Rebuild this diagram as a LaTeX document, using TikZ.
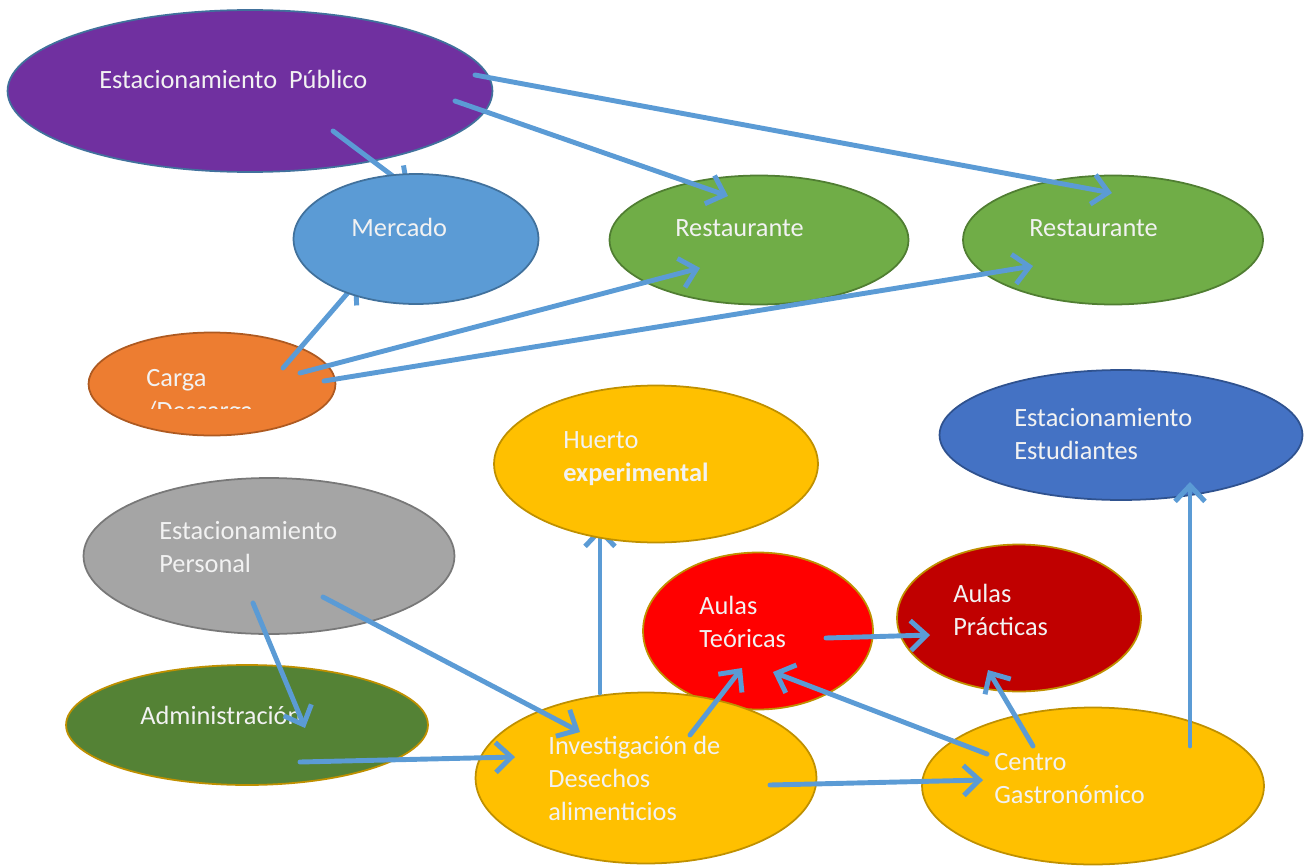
\documentclass[tikz,border=0pt]{standalone}
\usepackage{fontspec}
\setmainfont{Carlito}
\usetikzlibrary{shapes.geometric,arrows.meta}
\definecolor{linkblue}{HTML}{5B9BD5}
\definecolor{gold}{HTML}{BF9000}
\pgfdeclarelayer{back}
\pgfdeclarelayer{under}
\pgfsetlayers{back,under,main}
\tikzset{
  blob/.style={ellipse,draw,line width=1pt,inner sep=0pt},
  lbl/.style={text=white!95!black,align=left,anchor=base west,inner sep=0pt,
    font=\fontsize{15}{18.7}\selectfont},
  link/.style={->,line width=2.8pt,draw=linkblue,line cap=round,line join=round}
}
\begin{document}
\begin{tikzpicture}[x=0.02cm,y=-0.02cm,>={Straight Barb[length=9pt,width=17pt]}]
  \useasboundingbox (0,0) rectangle (1311,865);
  % ovals
  \begin{pgfonlayer}{back}
  \node[blob,fill={rgb,255:red,112;green,48;blue,160},draw={rgb,255:red,65;green,113;blue,156},minimum width=9.7cm,minimum height=3.24cm](pub)at(250,91){};
  \node[blob,fill={rgb,255:red,112;green,173;blue,71},draw={rgb,255:red,80;green,126;blue,50},minimum width=5.98cm,minimum height=2.58cm](rest1)at(759,240){};
  \node[blob,fill={rgb,255:red,112;green,173;blue,71},draw={rgb,255:red,80;green,126;blue,50},minimum width=6cm,minimum height=2.58cm](rest2)at(1113,240){};
  \node[blob,fill={rgb,255:red,237;green,125;blue,49},draw={rgb,255:red,174;green,90;blue,33},minimum width=4.94cm,minimum height=2.06cm](carga)at(212,384){};
  \node[blob,fill={rgb,255:red,68;green,114;blue,196},draw={rgb,255:red,47;green,82;blue,143},minimum width=7.26cm,minimum height=2.6cm](estud)at(1121,435){};
  \node[blob,fill={rgb,255:red,165;green,165;blue,165},draw={rgb,255:red,120;green,120;blue,120},minimum width=7.42cm,minimum height=3.12cm](pers)at(269,556){};
  \node[blob,fill=red,draw=gold,minimum width=4.6cm,minimum height=3.14cm](teor)at(758,631){};
  \node[blob,fill={rgb,255:red,192;green,0;blue,0},draw=gold,minimum width=4.88cm,minimum height=2.94cm](prac)at(1019,618){};
  \node[blob,fill={rgb,255:red,84;green,130;blue,53},draw=gold,minimum width=7.24cm,minimum height=2.4cm](admin)at(247,725){};
  \node[blob,fill={rgb,255:red,255;green,192;blue,0},draw=gold,minimum width=6.82cm,minimum height=3.42cm](inv)at(646,778){};
  \node[blob,fill={rgb,255:red,255;green,192;blue,0},draw=gold,minimum width=6.84cm,minimum height=3.14cm](cent)at(1093,786){};
  \end{pgfonlayer}
  \node[blob,fill=linkblue,draw={rgb,255:red,65;green,113;blue,156},minimum width=4.9cm,minimum height=2.6cm](merc)at(416,239){};
  \node[blob,fill={rgb,255:red,255;green,192;blue,0},draw=gold,minimum width=6.48cm,minimum height=3.14cm](huerto)at(656,464){};
  % links that run under an oval
  \begin{pgfonlayer}{under}
  \draw[link]([shift={(83,40)}]pub.center)--([shift={(-6,-50)}]merc.center);
  \draw[link]([shift={(71,-16)}]carga.center)--([shift={(-58,42)}]merc.center);
  \draw[link]([shift={(-46,-85)}]inv.center)--([shift={(-56,63)}]huerto.center);
  \end{pgfonlayer}
  % labels (base = last line)
  \node[lbl](pubtxt)at(99,89){Estacionamiento\ \ Público};
  \node[lbl](merctxt)at(351,236){Mercado};
  \node[lbl](rest1txt)at(675,236){Restaurante};
  \node[lbl](rest2txt)at(1029,236){Restaurante};
  \begin{scope}
    \clip(140,350)rectangle(300,408);
    \node[lbl](cargatxt)at(146,419){Carga\\/Descarga};
  \end{scope}
  \node[lbl](huertotxt)at(563,481){Huerto\\\textbf{experimental}};
  \node[lbl](estudtxt)at(1014,459){Estacionamiento\\Estudiantes};
  \node[lbl](perstxt)at(159,572){Estacionamiento\\Personal};
  \node[lbl](teortxt)at(699,647){Aulas\\Teóricas};
  \node[lbl](practxt)at(953,635){Aulas\\Prácticas};
  \node[lbl](admintxt)at(140,724){Administración};
  \node[lbl](invtxt)at(548,820){Investigación de\\Desechos\\alimenticios};
  \node[lbl](centtxt)at(994,803){Centro\\Gastronómico};
  % links
  \draw[link]([shift={(205,10)}]pub.center)--([shift={(-31,-44)}]rest1.center);
  \draw[link]([shift={(225,-16)}]pub.center)--([shift={(-1,-47)}]rest2.center);
  \draw[link]([shift={(88,-11)}]carga.center)--([shift={(-59,28)}]rest1.center);
  \draw[link]([shift={(112,-3)}]carga.center)--([shift={(-80,26)}]rest2.center);
  \draw[link]([shift={(-16,47)}]pers.center)--([shift={(58,3)}]admin.center);
  \draw[link]([shift={(54,41)}]pers.center)--([shift={(-66,-46)}]inv.center);
  \draw[link]([shift={(53,37)}]admin.center)--([shift={(-131,-21)}]inv.center);
  \draw[link]([shift={(44,-43)}]inv.center)--([shift={(-16,37)}]teor.center);
  \draw[link]([shift={(124,7)}]inv.center)--([shift={(-110,-6)}]cent.center);
  \draw[link]([shift={(68,7)}]teor.center)--([shift={(-89,17)}]prac.center);
  \draw[link]([shift={(-106,-32)}]cent.center)--([shift={(15,41)}]teor.center);
  \draw[link]([shift={(-60,-40)}]cent.center)--([shift={(-31,52)}]prac.center);
  \draw[link]([shift={(97,-40)}]cent.center)--([shift={(69,47)}]estud.center);
\end{tikzpicture}
\end{document}
